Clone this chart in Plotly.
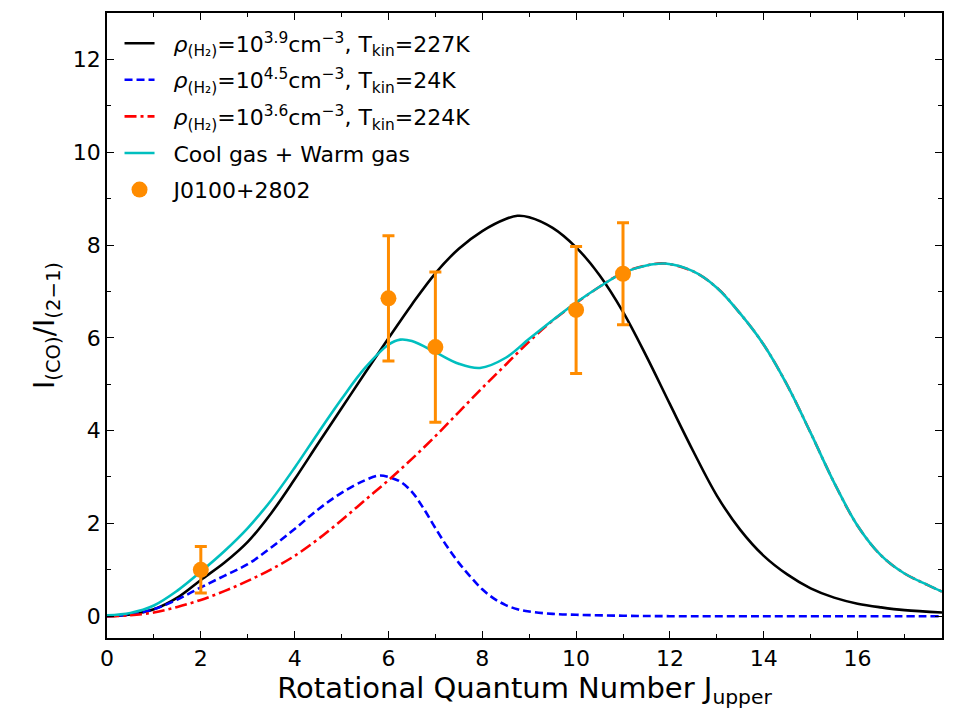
import plotly.graph_objects as go

# ---- data ----
black_x = [0, 0.5, 1, 1.5, 2, 2.5, 3, 3.5, 4, 4.5, 5, 5.5, 6, 6.5, 7, 7.5, 8, 8.5, 8.75, 9,
           9.5, 10, 10.5, 11, 11.5, 12, 12.5, 13, 13.5, 14, 14.5, 15, 15.5, 16, 16.5, 17, 17.8]
black_y = [0.0, 0.04, 0.15, 0.4, 0.78, 1.15, 1.6, 2.22, 2.95, 3.72, 4.48, 5.24, 5.99, 6.72, 7.39,
           7.92, 8.3, 8.56, 8.63, 8.6, 8.37, 7.95, 7.35, 6.56, 5.6, 4.57, 3.55, 2.6, 1.86, 1.3,
           0.9, 0.6, 0.4, 0.27, 0.19, 0.13, 0.08]

blue_x = [0, 0.5, 1, 1.5, 2, 2.5, 3, 3.5, 4, 4.5, 5, 5.5, 5.8, 6, 6.25, 6.5, 6.75, 7, 7.25, 7.5,
          7.75, 8, 8.25, 8.5, 8.75, 9, 9.5, 10, 11, 12, 14, 16, 17.8]
blue_y = [0.0, 0.04, 0.15, 0.36, 0.62, 0.87, 1.12, 1.48, 1.88, 2.3, 2.66, 2.93, 3.03, 3.0, 2.9,
          2.68, 2.32, 1.9, 1.5, 1.15, 0.85, 0.58, 0.38, 0.24, 0.15, 0.1, 0.05, 0.03, 0.01, 0.0,
          0.0, 0.0, 0.0]

red_x = [0, 0.5, 1, 1.5, 2, 2.5, 3, 3.5, 4, 4.5, 5, 5.5, 6, 6.5, 7, 7.5, 8, 8.5, 9, 9.5, 10,
         10.5, 11, 11.5, 11.9, 12.5, 13, 13.5, 14, 14.5, 15, 15.5, 16, 16.5, 17, 17.5, 17.8]
red_y = [0.0, 0.02, 0.08, 0.2, 0.35, 0.54, 0.76, 1.01, 1.3, 1.66, 2.07, 2.5, 2.93, 3.39, 3.88,
         4.4, 4.92, 5.42, 5.92, 6.37, 6.75, 7.1, 7.4, 7.56, 7.6, 7.43, 7.08, 6.52, 5.85, 4.98,
         3.95, 2.88, 1.95, 1.31, 0.92, 0.67, 0.53]

cyan_x = [0, 0.5, 1, 1.5, 2, 2.5, 3, 3.5, 4, 4.5, 5, 5.5, 6, 6.25, 6.5, 7, 7.5, 7.95, 8.5, 9,
          9.5, 10, 10.5, 11, 11.5, 11.9, 12.5, 13, 13.5, 14, 14.5, 15, 15.5, 16, 16.5, 17,
          17.5, 17.8]
cyan_y = [0.02, 0.07, 0.23, 0.55, 0.96, 1.4, 1.9, 2.5, 3.2, 3.95, 4.68, 5.35, 5.85, 5.96, 5.93,
          5.69, 5.44, 5.35, 5.57, 5.98, 6.38, 6.76, 7.1, 7.4, 7.56, 7.6, 7.43, 7.08, 6.52, 5.85,
          4.98, 3.95, 2.88, 1.95, 1.31, 0.92, 0.67, 0.53]

obs_j = [2, 6, 7, 10, 11]
obs_ratio = [1.0, 6.85, 5.8, 6.6, 7.38]
obs_err = [0.5, 1.35, 1.62, 1.37, 1.1]

x_ticks = [0, 2, 4, 6, 8, 10, 12, 14, 16]
y_ticks = [0, 2, 4, 6, 8, 10, 12]

NB = "\u00a0\u00a0"
names = [
    NB + "<i>ρ</i><sub>(H₂)</sub>=10<sup>3.9</sup>cm<sup>−3</sup>, T<sub>kin</sub>=227K",
    NB + "<i>ρ</i><sub>(H₂)</sub>=10<sup>4.5</sup>cm<sup>−3</sup>, T<sub>kin</sub>=24K",
    NB + "<i>ρ</i><sub>(H₂)</sub>=10<sup>3.6</sup>cm<sup>−3</sup>, T<sub>kin</sub>=224K",
    NB + "Cool gas + Warm gas",
    NB + "J0100+2802",
]

FONT = "DejaVu Sans"
SM = 1.0

fig = go.Figure()
fig.add_trace(go.Scatter(x=black_x, y=black_y, mode="lines", name=names[0], legendgroup="a",
                         line=dict(color="black", width=2.6, shape="spline", smoothing=SM)))
fig.add_trace(go.Scatter(x=blue_x, y=blue_y, mode="lines", name=names[1], legendgroup="b",
                         line=dict(color="#0000ff", width=2.6, dash="8px,4px",
                                   shape="spline", smoothing=SM)))
fig.add_trace(go.Scatter(x=red_x, y=red_y, mode="lines", name=names[2], legendgroup="c",
                         line=dict(color="#ff0000", width=2.6, dash="12px,4px,3px,4px",
                                   shape="spline", smoothing=SM)))
fig.add_trace(go.Scatter(x=cyan_x, y=cyan_y, mode="lines", name=names[3], legendgroup="d",
                         line=dict(color="#00bfbf", width=2.6, shape="spline", smoothing=SM)))
fig.add_trace(go.Scatter(x=obs_j, y=obs_ratio, mode="markers", name=names[4], legendgroup="e",
                         marker=dict(color="#ff8c00", size=16),
                         error_y=dict(type="data", array=obs_err, visible=True,
                                      color="#ff8c00", thickness=3, width=6)))

axis_common = dict(
    showline=True, linecolor="black", linewidth=1.5, mirror="allticks",
    ticks="inside", ticklen=7, tickwidth=1.3, tickcolor="black",
    showgrid=False, zeroline=False,
    tickfont=dict(family=FONT, size=22, color="black"),
    minor=dict(ticks="inside", ticklen=4, tickwidth=1, tickcolor="black", dtick=1),
)

fig.update_xaxes(range=[0, 17.8], tickvals=x_ticks, ticktext=[str(v) for v in x_ticks],
                 title=dict(text="Rotational Quantum Number J<sub>upper</sub>",
                            font=dict(family=FONT, size=29, color="black"), standoff=4),
                 **axis_common)
fig.update_yaxes(range=[-0.47, 13.0], tickvals=y_ticks, ticktext=[str(v) for v in y_ticks],
                 title=dict(text="I<sub>(CO)</sub>/I<sub>(2−1)</sub>",
                            font=dict(family=FONT, size=28, color="black"), standoff=10),
                 **axis_common)

fig.update_layout(
    width=961, height=719,
    margin=dict(l=107, r=19, t=13, b=81),
    paper_bgcolor="white", plot_bgcolor="white",
    font=dict(family=FONT, color="black"),
    showlegend=True,
    legend=dict(x=0.015, y=0.985, xanchor="left", yanchor="top",
                font=dict(family=FONT, size=22, color="black"),
                bgcolor="rgba(0,0,0,0)", borderwidth=0, tracegroupgap=5),
)

fig.write_html("out.html")
